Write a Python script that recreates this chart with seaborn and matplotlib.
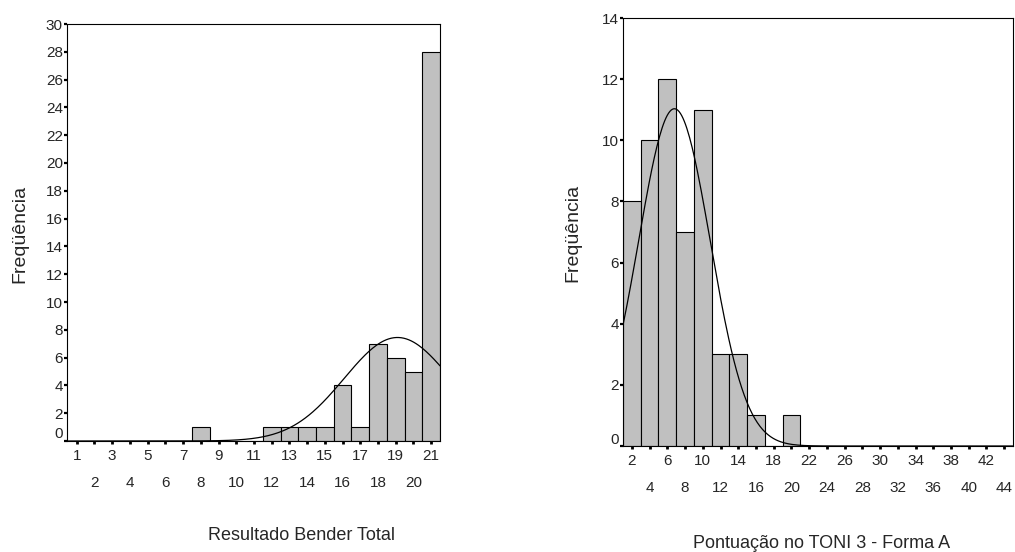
import numpy as np
import pandas as pd
import seaborn as sns
import matplotlib.pyplot as plt
from matplotlib.transforms import ScaledTranslation

# Resultado Bender Total (left histogram, bins of width 1)
bender_scores = [1, 2, 3, 4, 5, 6, 7, 8, 9, 10, 11, 12, 13, 14, 15, 16, 17, 18, 19, 20, 21]
bender_freq = [0, 0, 0, 0, 0, 0, 0, 1, 0, 0, 0, 1, 1, 1, 1, 4, 1, 7, 6, 5, 28]
bender_mean, bender_sd = 19.1, 3.0
bender_row1 = [1, 3, 5, 7, 9, 11, 13, 15, 17, 19, 21]
bender_row2 = [2, 4, 6, 8, 10, 12, 14, 16, 18, 20]
bender_yticks = [0, 2, 4, 6, 8, 10, 12, 14, 16, 18, 20, 22, 24, 26, 28, 30]

# Pontuacao no TONI 3 (right histogram, bins of width 2)
toni_scores = [2, 4, 6, 8, 10, 12, 14, 16, 18, 20]
toni_freq = [8, 10, 12, 7, 11, 3, 3, 1, 0, 1]
toni_edges = [1, 3, 5, 7, 9, 11, 13, 15, 17, 19, 21]
toni_mean, toni_sd = 6.8, 4.05
toni_row1 = [2, 6, 10, 14, 18, 22, 26, 30, 34, 38, 42]
toni_row2 = [4, 8, 12, 16, 20, 24, 28, 32, 36, 40, 44]
toni_yticks = [0, 2, 4, 6, 8, 10, 12, 14]

sns.set_style("white")
plt.rcParams['font.family'] = ['Liberation Sans', 'DejaVu Sans']

fig = plt.figure(figsize=(10.15, 5.52), dpi=100)
ax1 = fig.add_axes([67 / 1015, 111 / 552, 373 / 1015, 417 / 552])
ax2 = fig.add_axes([623 / 1015, 106 / 552, 390 / 1015, 428 / 552])

bar_kw = dict(color='#c0c0c0', edgecolor='black', linewidth=0.8, alpha=1)

df1 = pd.DataFrame({'score': bender_scores, 'freq': bender_freq})
sns.histplot(data=df1, x='score', weights='freq', discrete=True, ax=ax1, **bar_kw)
df2 = pd.DataFrame({'score': toni_scores, 'freq': toni_freq})
sns.histplot(data=df2, x='score', weights='freq', bins=toni_edges, ax=ax2, **bar_kw)


def normal_curve(ax, lo, hi, n, width, mu, sd):
    xs = np.linspace(lo, hi, 300)
    ys = n * width * np.exp(-0.5 * ((xs - mu) / sd) ** 2) / (sd * np.sqrt(2 * np.pi))
    sns.lineplot(x=xs, y=ys, ax=ax, color='black', linewidth=0.9)


normal_curve(ax1, 0.45, 21.5, sum(bender_freq), 1, bender_mean, bender_sd)
normal_curve(ax2, 1, 45, sum(toni_freq), 2, toni_mean, toni_sd)

ax1.set_xlim(0.45, 21.5)
ax1.set_ylim(0, 30)
ax2.set_xlim(1, 45)
ax2.set_ylim(0, 14)

for ax, yt, r1, r2 in [(ax1, bender_yticks, bender_row1, bender_row2),
                       (ax2, toni_yticks, toni_row1, toni_row2)]:
    ax.set_xlabel('')
    ax.set_ylabel('')
    ax.set_yticks(yt)
    ax.set_yticklabels([str(v) for v in yt])
    ax.set_xticks(r1)
    ax.set_xticklabels([str(v) for v in r1])
    ax.set_xticks(r2, minor=True)
    ax.set_xticklabels([str(v) for v in r2], minor=True)
    ax.tick_params(axis='y', direction='out', length=2.5, width=1.6, pad=0.5,
                   labelsize=11, left=True, color='black')
    ax.tick_params(axis='x', which='both', direction='out', length=2.5, width=2,
                   labelsize=11, bottom=True, color='black')
    ax.tick_params(axis='x', which='major', pad=3)
    ax.tick_params(axis='x', which='minor', pad=23)
    for s in ax.spines.values():
        s.set_visible(True)
        s.set_color('black')
        s.set_linewidth(0.8)
    # SPSS draws the zero label slightly above the baseline
    zero = ax.get_yticklabels()[0]
    zero.set_transform(zero.get_transform() + ScaledTranslation(0, 0.08, fig.dpi_scale_trans))

fig.text(20 / 1015, 1 - 234 / 552, 'Freqüência', rotation=90, ha='center', va='center', fontsize=14)
fig.text(573 / 1015, 1 - 233 / 552, 'Freqüência', rotation=90, ha='center', va='center', fontsize=14)
fig.text(301 / 1015, 1 - 535 / 552, 'Resultado Bender Total', ha='center', va='center', fontsize=13)
fig.text(822 / 1015, 1 - 543 / 552, 'Pontuação no TONI 3 - Forma A', ha='center', va='center', fontsize=13)

fig.savefig('out.png', dpi=100)
